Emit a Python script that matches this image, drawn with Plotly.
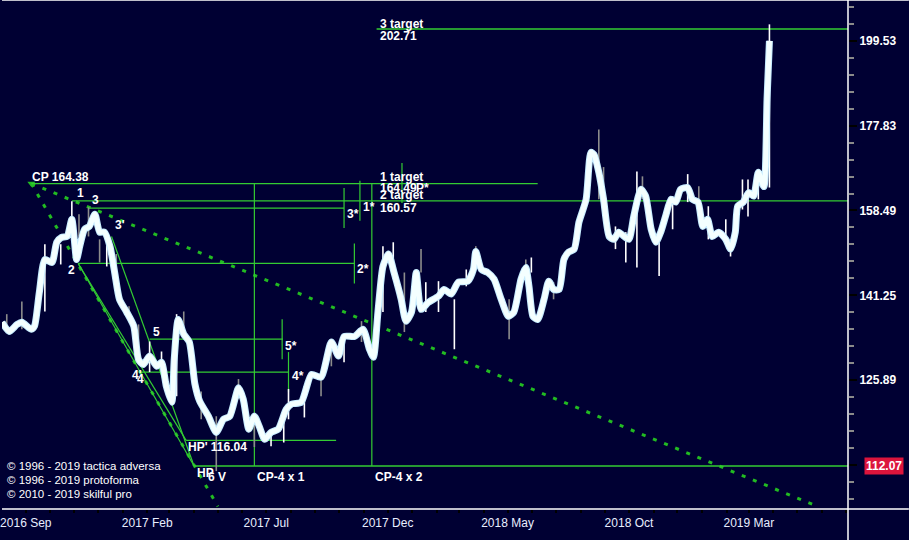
import math
import plotly.graph_objects as go

BG = '#000033'
GREEN = '#33cc33'
FONT = 'Liberation Sans'

# ---- price curve (thick smoothed line) ----
close_dates = [
    '2016-08-02', '2016-08-11', '2016-08-21', '2016-08-27', '2016-09-08', '2016-09-12',
    '2016-09-18', '2016-09-25', '2016-10-04', '2016-10-10', '2016-10-16', '2016-10-23',
    '2016-10-29', '2016-11-04', '2016-11-08', '2016-11-14', '2016-11-20', '2016-11-27',
    '2016-12-03', '2016-12-09', '2016-12-16', '2016-12-22', '2016-12-28', '2017-01-06',
    '2017-01-15', '2017-01-21', '2017-01-27', '2017-02-04', '2017-02-13', '2017-02-19',
    '2017-02-25', '2017-03-04', '2017-03-07', '2017-03-12', '2017-03-19', '2017-03-26',
    '2017-04-02', '2017-04-08', '2017-04-19', '2017-04-29', '2017-05-08', '2017-05-16',
    '2017-05-27', '2017-06-02', '2017-06-09', '2017-06-16', '2017-06-22', '2017-06-29',
    '2017-07-07', '2017-07-16', '2017-07-26', '2017-08-02', '2017-08-14', '2017-08-27',
    '2017-09-08', '2017-09-21', '2017-09-30', '2017-10-07', '2017-10-20', '2017-10-31',
    '2017-11-08', '2017-11-13', '2017-11-19', '2017-11-25', '2017-12-02', '2017-12-09',
    '2017-12-18', '2017-12-24', '2017-12-31', '2018-01-06', '2018-01-12', '2018-01-21',
    '2018-02-03', '2018-02-10', '2018-02-19', '2018-02-28', '2018-03-12', '2018-03-19',
    '2018-03-22', '2018-03-29', '2018-04-06', '2018-04-14', '2018-04-23', '2018-05-02',
    '2018-05-09', '2018-05-18', '2018-05-24', '2018-05-28', '2018-06-02', '2018-06-08',
    '2018-06-16', '2018-06-22', '2018-06-28', '2018-07-05', '2018-07-11', '2018-07-17',
    '2018-07-24', '2018-07-30', '2018-08-08', '2018-08-14', '2018-08-18', '2018-08-24',
    '2018-08-30', '2018-09-06', '2018-09-12', '2018-09-18', '2018-09-25', '2018-10-01',
    '2018-10-07', '2018-10-16', '2018-10-22', '2018-10-29', '2018-11-04', '2018-11-10',
    '2018-11-16', '2018-11-23', '2018-11-29', '2018-12-05', '2018-12-14', '2018-12-20',
    '2018-12-27', '2019-01-02', '2019-01-08', '2019-01-14', '2019-01-22', '2019-01-31',
    '2019-02-06', '2019-02-12', '2019-02-15', '2019-02-22', '2019-03-01', '2019-03-07',
    '2019-03-13', '2019-03-20', '2019-03-24', '2019-03-27',
]
close_prices = [
    136.2, 134.5, 135.8, 136.2, 134.9, 135.5,
    141.8, 148.3, 147.7, 151.8, 152.8, 153.0,
    156.6, 148.3, 151.0, 154.5, 155.1, 157.7,
    153.9, 153.9, 151.0, 145.7, 140.5, 138.1,
    135.5, 129.5, 128.6, 130.1, 128.3, 129.0,
    124.9, 122.2, 129.5, 136.7, 134.0, 132.6,
    125.3, 122.4, 119.9, 117.3, 119.4, 119.9,
    124.6, 122.7, 117.8, 119.9, 118.3, 116.2,
    117.3, 117.8, 121.0, 121.9, 122.2, 126.9,
    126.4, 132.6, 130.1, 133.6, 133.6, 134.9,
    131.3, 129.9, 138.6, 146.9, 149.4, 145.7,
    140.5, 136.4, 138.1, 145.7, 138.6, 139.9,
    141.1, 142.4, 141.5, 143.8, 144.0, 146.3,
    149.9, 146.3, 145.7, 144.4, 140.5, 137.3,
    138.1, 144.4, 146.7, 143.0, 137.3, 136.7,
    140.5, 144.0, 142.4, 142.4, 148.3, 149.8,
    150.4, 156.0, 160.9, 171.5, 171.0, 166.9,
    160.9, 153.0, 152.4, 153.9, 153.0, 152.4,
    157.2, 163.1, 161.6, 154.5, 151.8, 153.9,
    157.2, 160.9, 160.3, 163.1, 163.5, 160.9,
    160.3, 155.1, 156.6, 153.0, 153.9, 152.4,
    150.4, 153.9, 159.4, 160.3, 162.4, 161.6,
    166.9, 163.7, 184.3, 199.5,
]

# ---- thin high/low bars poking out of the curve ----
wick_dates = [
    '2016-08-08', '2016-08-27', '2016-09-25', '2016-10-15', '2016-10-29', '2016-11-07',
    '2016-11-19', '2016-12-03', '2016-12-12', '2016-12-24', '2017-01-09', '2017-01-21',
    '2017-02-04', '2017-02-19', '2017-03-10', '2017-03-19', '2017-04-10', '2017-04-29',
    '2017-05-27', '2017-06-16', '2017-07-07', '2017-07-23', '2017-07-29', '2017-08-18',
    '2017-09-08', '2017-09-21', '2017-10-07', '2017-10-29', '2017-11-25', '2017-12-08',
    '2017-12-22', '2018-01-12', '2018-01-18', '2018-02-03', '2018-02-23', '2018-03-10',
    '2018-03-22', '2018-05-03', '2018-05-24', '2018-05-31', '2018-06-28', '2018-08-24',
    '2018-08-30', '2018-09-14', '2018-09-27', '2018-10-11', '2018-10-18', '2018-11-08',
    '2018-11-25', '2018-12-14', '2018-12-28', '2019-01-09', '2019-01-31', '2019-02-06',
    '2019-02-21', '2019-02-28', '2019-03-13', '2019-03-27',
]
wick_high = [
    137.7, 140.1, 151.4, 151.4, 160.5, 157.7,
    159.2, 152.4, 153.9, 149.4, 139.2, 135.8,
    132.7, 130.9, 137.7, 138.2, 124.0, 119.9,
    126.1, 120.5, 117.8, 119.9, 124.4, 124.9,
    126.1, 133.1, 133.1, 136.4, 151.0, 151.8,
    145.7, 150.4, 143.8, 144.0, 140.5, 146.3,
    151.0, 140.5, 148.3, 148.7, 143.8, 176.9,
    168.1, 155.1, 153.9, 167.1, 166.0, 151.8,
    161.6, 166.5, 163.8, 159.4, 156.6, 152.4,
    165.3, 165.3, 167.6, 204.0,
]
wick_low = [
    134.4, 134.9, 138.2, 147.3, 153.9, 153.0,
    153.0, 147.7, 146.9, 145.0, 136.2, 131.3,
    127.3, 127.3, 123.2, 134.4, 119.4, 111.3,
    122.7, 115.0, 115.1, 115.7, 119.4, 119.7,
    123.2, 128.3, 129.0, 132.6, 138.1, 144.4,
    134.4, 145.7, 138.1, 138.1, 131.3, 143.0,
    148.9, 133.1, 145.0, 145.7, 140.5, 160.9,
    160.9, 150.4, 147.7, 146.7, 160.9, 145.0,
    154.5, 160.3, 158.7, 152.4, 151.8, 148.9,
    158.7, 157.2, 160.9, 163.5,
]
wick_up = [
    0, 0, 1, 1, 1, 0,
    0, 0, 1, 0, 0, 0,
    1, 1, 1, 0, 0, 0,
    0, 0, 1, 1, 1, 1,
    0, 0, 1, 0, 1, 1,
    0, 0, 1, 1, 1, 1,
    0, 0, 0, 1, 0, 0,
    0, 1, 1, 1, 0, 1,
    1, 1, 0, 1, 1, 1,
    1, 1, 1, 1,
]

# ---- wave points ----
wave_names = ['CP', '1', '2', '3', "3'", '4', '5', "HP'", 'HP']
wave_dates = ['2016-09-08', '2016-10-29', '2016-11-06', '2016-11-20', '2016-12-18',
              '2017-01-21', '2017-02-04', '2017-03-22', '2017-04-01']
wave_prices = [164.38, 160.57, 147.5, 159.0, 153.0, 127.3, 133.1, 116.04, 112.07]

# horizontal levels
level_prices = [164.38, 160.57, 159.0, 147.5, 133.1, 127.3, 116.04, 112.07, 202.71]
level_start = ['2016-09-08', '2016-10-29', '2016-11-20', '2016-11-06', '2017-02-04',
               '2017-01-21', '2017-03-22', '2017-04-01', '2017-11-17']
level_end = ['2018-06-08', '2019-07-04', '2017-10-07', '2017-10-20', '2017-07-22',
             '2017-07-29', '2017-09-27', '2019-07-04', '2019-07-04']

# time projections CP-4 x 1 / x 2
proj_names = ['CP-4 x 1', 'CP-4 x 2']
proj_dates = ['2017-06-16', '2017-11-11']

# short marker verticals
marker_names = ['1*', '3*', '2*', '5*', '4*', 'P*']
marker_dates = ['2017-10-27', '2017-10-07', '2017-10-20', '2017-07-21', '2017-07-29', '2017-12-19']
marker_levels = [160.57, 159.0, 147.5, 133.1, 127.3, 164.49]

# targets
target_names = ['1 target', '2 target', '3 target']
target_values = [164.49, 160.57, 202.71]
target_date = '2017-11-17'

# dotted trend lines from CP
trend_a_dates = ['2016-09-08', '2019-05-20']
trend_a_prices = [164.38, 106.4]
trend_b_dates = ['2016-09-08', '2017-05-01']
trend_b_prices = [164.38, 106.1]

# axis ticks
x_tick_vals = ['2016-09-01', '2017-02-01', '2017-07-01', '2017-12-01',
               '2018-05-01', '2018-10-01', '2019-03-01']
x_tick_text = ['2016 Sep', '2017 Feb', '2017 Jul', '2017 Dec',
               '2018 May', '2018 Oct', '2019 Mar']
y_tick_vals = [112.2, 125.89, 141.25, 158.49, 177.83, 199.53]
y_tick_text = ['', '125.89', '141.25', '158.49', '177.83', '199.53']
last_low = 112.07

copyright_lines = ['© 1996 - 2019 tactica adversa',
                   '© 1996 - 2019 protoforma',
                   '© 2010 - 2019 skilful pro']

fig = go.Figure()


def seg(xs, ys, color, width=1.3, dash=None):
    fig.add_trace(go.Scatter(x=xs, y=ys, mode='lines', hoverinfo='skip',
                             line=dict(color=color, width=width, dash=dash)))


# dotted trend lines
seg(trend_a_dates, trend_a_prices, '#22bb22', 3, '4px,8px')
seg(trend_b_dates, trend_b_prices, '#22bb22', 3, '4px,8px')
fig.add_trace(go.Scatter(x=[wave_dates[0]], y=[wave_prices[0]], mode='markers',
                         marker=dict(symbol='triangle-down', size=7, color='#22bb22'),
                         hoverinfo='skip'))

# diagonal lines 2 -> HP, 2 -> HP', 3' -> HP
w = dict(zip(wave_names, zip(wave_dates, wave_prices)))
for a, b in [('2', 'HP'), ('2', "HP'"), ("3'", 'HP')]:
    seg([w[a][0], w[b][0]], [w[a][1], w[b][1]], GREEN, 1.2)

# horizontal levels
for p, s, e in zip(level_prices, level_start, level_end):
    seg([s, e], [p, p], GREEN, 1.3)

# projection verticals
for d in proj_dates:
    seg([d, d], [last_low, wave_prices[0]], GREEN, 1.2)

# marker verticals
for d, lv in zip(marker_dates, marker_levels):
    seg([d, d], [lv * 1.0275, lv / 1.0275], GREEN, 1.2)

# wicks
for flag, col in [(0, '#8c8c8c'), (1, '#ffffff')]:
    xs, ys = [], []
    for d, h, l, u in zip(wick_dates, wick_high, wick_low, wick_up):
        if u == flag:
            xs += [d, d, None]
            ys += [h, l, None]
    seg(xs, ys, col, 1.6)

# thick price curve with a light glow
fig.add_trace(go.Scatter(x=close_dates, y=close_prices, mode='lines', hoverinfo='skip',
                         line=dict(color='#c6ecff', width=7, shape='spline', smoothing=0.6)))
fig.add_trace(go.Scatter(x=close_dates, y=close_prices, mode='lines', hoverinfo='skip',
                         line=dict(color='#f4ffff', width=5, shape='spline', smoothing=0.6)))

annotations = []


def label(text, x, y, xshift=0, yshift=0, xanchor='left', size=12):
    # log axis: annotation y is given as log10
    annotations.append(dict(
        text='<b>%s</b>' % text, x=x, y=math.log10(y), xref='x', yref='y',
        xanchor=xanchor, yanchor='middle', showarrow=False, xshift=xshift, yshift=yshift,
        font=dict(family=FONT, size=size, color='white')))


label('CP %.2f' % wave_prices[0], w['CP'][0], w['CP'][1], -1, 7)
label('1', w['1'][0], w['1'][1], 3, 8)
label('3', w['3'][0], w['3'][1], 1, 8)
label("3'", w["3'"][0], w["3'"][1], 1, 11)
label('2', w['2'][0], w['2'][1], -1, -7, 'right')
label('5', w['5'][0], w['5'][1], 1, 7)
label("4'", w['4'][0], w['4'][1], -9, -3)
label('4', w['4'][0], w['4'][1], -4, -7)
label("HP' %.2f" % wave_prices[7], w["HP'"][0], w["HP'"][1], 0, -7)
label('HP', w['HP'][0], w['HP'][1], 1, -7)
label('6 V', w['HP'][0], w['HP'][1], 12, -11)
for n, d in zip(proj_names, proj_dates):
    label(n, d, last_low, 1, -11)
marker_shift = {'1*': (1, -6), '3*': (1, -6), '2*': (1, -6), '5*': (1, -7),
                '4*': (1, -4), 'P*': (12, -5)}
for n, d, lv in zip(marker_names, marker_dates, marker_levels):
    label(n, d, lv, *marker_shift[n])
for n, v, up, dn in zip(target_names, target_values, [6, 6, 5], [-5, -7, -7]):
    label(n, target_date, v, 1, up)
    label('%.2f' % v, target_date, v, 1, dn)

# red price box on the axis
annotations.append(dict(
    text='<b>%.2f</b>' % last_low, x=1, xref='paper', y=math.log10(last_low), yref='y',
    xanchor='left', yanchor='middle', showarrow=False, xshift=16,
    bgcolor='#dc143c', borderpad=1,
    font=dict(family=FONT, size=12, color='white')))

for i, t in enumerate(copyright_lines):
    annotations.append(dict(
        text=t, x=0, xref='paper', y=1 - (466 + 14 * i) / 509, yref='paper',
        xanchor='left', yanchor='middle', showarrow=False, xshift=3,
        font=dict(family=FONT, size=11.5, color='white')))

fig.update_layout(
    width=909, height=540,
    margin=dict(l=0, r=61, t=0, b=31),
    paper_bgcolor=BG, plot_bgcolor=BG,
    showlegend=False,
    annotations=annotations,
    xaxis=dict(
        type='date', range=['2016-08-02', '2019-07-04'],
        tickvals=x_tick_vals, ticktext=x_tick_text, ticklabeloverflow='allow',
        ticks='outside', ticklen=3, tickcolor='black', tickwidth=2,
        tickfont=dict(family=FONT, size=12, color='#e8eeff'),
        minor=dict(dtick='M1', tick0='2016-09-01', ticks='outside', ticklen=3,
                   tickcolor='black', tickwidth=2),
        showgrid=False, zeroline=False, showline=False),
    yaxis=dict(
        type='log', side='right', range=[2.02417, 2.32397],
        tickvals=y_tick_vals, ticktext=['<b>%s</b>' % t if t else '' for t in y_tick_text],
        ticks='outside', ticklen=8, tickcolor='black', tickwidth=2,
        tickfont=dict(family=FONT, size=12, color='white'), ticklabeloverflow='allow',
        minor=dict(tick0=0, dtick=0.01, ticks='outside', ticklen=5,
                   tickcolor='#8a8a8a', tickwidth=1.5),
        showgrid=False, zeroline=False, showline=False),
    shapes=[
        dict(type='line', xref='paper', yref='paper', x0=1, x1=1, y0=-31 / 509, y1=1,
             line=dict(color='white', width=1.5)),
        dict(type='line', xref='paper', yref='paper', x0=0, x1=909 / 848, y0=0, y1=0,
             line=dict(color='white', width=1.5)),
        dict(type='line', xref='paper', yref='paper', x0=0, x1=909 / 848, y0=1, y1=1,
             line=dict(color='white', width=1.5)),
    ],
)

fig.write_html('out.html', config={'displayModeBar': False},
               post_script="document.body.style.margin='0';")
